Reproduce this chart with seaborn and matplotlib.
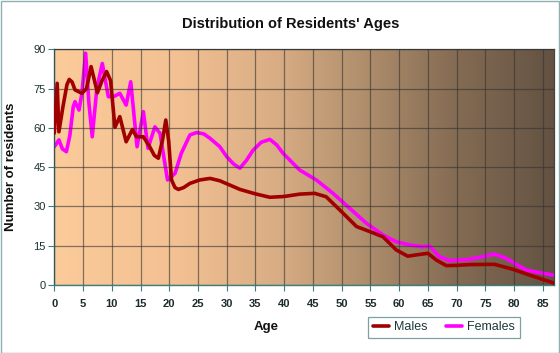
import numpy as np
import pandas as pd
import matplotlib
matplotlib.use('Agg')
import matplotlib.pyplot as plt
from matplotlib.ticker import MultipleLocator
from matplotlib.colors import LinearSegmentedColormap
import seaborn as sns

# values (age, number of residents)
male_age = [0, 0.5, 0.8, 1.5, 2.2, 2.6, 3.1, 3.6, 4.8, 5.6, 6.4, 7.0, 7.5, 8.3, 9.1, 9.8, 10.55,
            11.4, 12.5, 13.6, 14.3, 15.5, 16.6, 17.4, 18.1, 18.8, 19.4, 19.9, 20.4, 21.0,
            21.6, 22.5, 23.6, 25.3, 27.1, 28.8, 30.5, 32.3, 35, 37.5, 40, 42.7, 45.3, 47.3,
            49.7, 52.6, 54.9, 57.2, 59.5, 61.5, 63, 65, 66.5, 68.2, 70, 72.3, 76.6, 79.8,
            82.7, 86.7, 87]
male_cnt = [58, 77, 58.5, 68, 76.5, 78.5, 77.5, 74.5, 73.2, 75, 83.4, 78, 73.4, 78, 81.5, 78,
            60.2, 64.3, 54.7, 59.4, 56.6, 56.6, 52.8, 49.5, 48.4, 55, 63, 55, 40.1, 37.2,
            36.5, 37.2, 38.8, 40.1, 40.7, 39.8, 38.2, 36.5, 34.8, 33.5, 33.8, 34.7, 35,
            33.7, 28.6, 22.3, 20.4, 18.4, 13.4, 11, 11.5, 12.1, 9.5, 7.4, 7.5, 7.8, 7.9, 6,
            3.8, 0.9, 0.7]

female_age = [0, 0.8, 1.4, 2.1, 2.7, 3.3, 3.6, 4.3, 4.8, 5.45, 6.0, 6.6, 7.4, 8.35, 9.4, 10.4,
              11.4, 12.5, 13.3, 14.4, 15.5, 16.3, 17.5, 18.4, 19.7, 21, 22.1, 23.6, 24.75,
              26, 27.1, 28.8, 30, 31.2, 32.3, 33.4, 34.6, 36, 37.5, 38.7, 39.8, 42.7, 45.6,
              48.5, 51.4, 54.3, 57.2, 59.5, 61.8, 64.1, 65.3, 67, 68.8, 72.3, 74.5, 76.6,
              78.6, 82.1, 86.7, 87]
female_cnt = [52.8, 55.4, 52, 50.9, 57, 68.1, 70, 66.8, 73.2, 88.5, 70, 56.6, 75, 84.6, 71.9,
              72, 73.2, 68.7, 77.6, 52.8, 66.2, 52.2, 60.4, 57.9, 40.1, 42.6, 50.3, 57.3,
              58.2, 57.7, 56, 52.8, 49, 46.2, 44.6, 47.5, 51.5, 54.5, 55.6, 53.5, 50.3, 43.9,
              40.1, 35, 29.3, 23.6, 19.1, 16.5, 15.3, 14.6, 14.9, 10.8, 9.3, 9.8, 10.8, 11.8,
              10.2, 5.7, 3.8, 3.7]

x_ticks = list(range(0, 90, 5))
y_ticks = list(range(0, 91, 15))

df_m = pd.DataFrame({'age': male_age, 'count': male_cnt})
df_f = pd.DataFrame({'age': female_age, 'count': female_cnt})

sns.set_style('white')
plt.rcParams['font.family'] = ['Liberation Sans', 'DejaVu Sans']

fig = plt.figure(figsize=(5.6, 3.53), dpi=100)
fig.patch.set_facecolor('white')
ax = fig.add_axes([54.3/560, 1-285/353, 500/560, (285-49.3)/353])

# background gradient peach -> brown
cmap = LinearSegmentedColormap.from_list('bg', [
    (0.0, '#FCCB9A'), (0.25, '#F2C092'), (0.45, '#D8AC84'),
    (0.6, '#B4926F'), (0.8, '#856C54'), (1.0, '#635242')])
grad = np.linspace(0, 1, 256).reshape(1, -1)
ax.imshow(grad, cmap=cmap, aspect='auto', extent=[0, 87, 0, 90], zorder=0)

ax.set_xlim(0, 87)
ax.set_ylim(0, 90)
ax.set_xticks(x_ticks)
ax.set_yticks(y_ticks)
ax.xaxis.set_minor_locator(MultipleLocator(1))
ax.grid(True, which='major', color='#333333', alpha=0.6, lw=0.9, zorder=1)
ax.set_axisbelow(False)

sns.lineplot(data=df_m, x='age', y='count', ax=ax, color='#A00000', lw=2.6,
             estimator=None, sort=False, label='Males', zorder=3,
             solid_joinstyle='round', solid_capstyle='round')
sns.lineplot(data=df_f, x='age', y='count', ax=ax, color='#FF00FF', lw=2.6,
             estimator=None, sort=False, label='Females', zorder=2,
             solid_joinstyle='round', solid_capstyle='round')

for s in ['top', 'right']:
    ax.spines[s].set_color('#444444')
    ax.spines[s].set_linewidth(0.9)
for s in ['left', 'bottom']:
    ax.spines[s].set_color('#3d7f7f')
    ax.spines[s].set_linewidth(1.0)

ax.tick_params(axis='x', which='major', direction='out', length=4, color='#3d7f7f',
               labelsize=8, pad=6, labelcolor='#1c2c2c')
ax.tick_params(axis='x', which='minor', direction='out', length=2.5, color='#3d7f7f')
ax.tick_params(axis='y', which='major', direction='out', length=4, color='#3d7f7f',
               labelsize=8, pad=2, labelcolor='#1c3030')
ax.tick_params(left=True, bottom=True)
for lab in ax.get_xticklabels():
    lab.set_fontweight('bold')
ax.set_xlabel('')
ax.set_ylabel('')

fig.text(291/560, 1-24/353, "Distribution of Residents' Ages", ha='center', va='center',
         fontsize=10.5, fontweight='bold', color='#111111')
fig.text(266/560, 1-327/353, 'Age', ha='center', va='center',
         fontsize=9.5, fontweight='bold', color='#111111')
fig.text(11.5/560, 1-167/353, 'Number of residents', ha='center', va='center',
         rotation=90, fontsize=9.5, fontweight='bold', color='#111111')

leg = ax.legend(loc='center', bbox_to_anchor=(444/560, 1-327.5/353),
                bbox_transform=fig.transFigure, ncol=2, frameon=True, fancybox=False,
                fontsize=9, handlelength=1.3, handletextpad=0.4, columnspacing=1.5,
                borderpad=0.35)
leg.get_frame().set_edgecolor('#5a8a8a')
leg.get_frame().set_linewidth(0.9)
leg.get_frame().set_facecolor('white')
for t in leg.get_texts():
    t.set_color('#1c3a3a')

fig.add_artist(plt.Rectangle((0.001, 0.001), 0.997, 0.996, transform=fig.transFigure,
                             fill=False, edgecolor='#8fb0b0', lw=1.0))

fig.savefig('out.png', dpi=100)
